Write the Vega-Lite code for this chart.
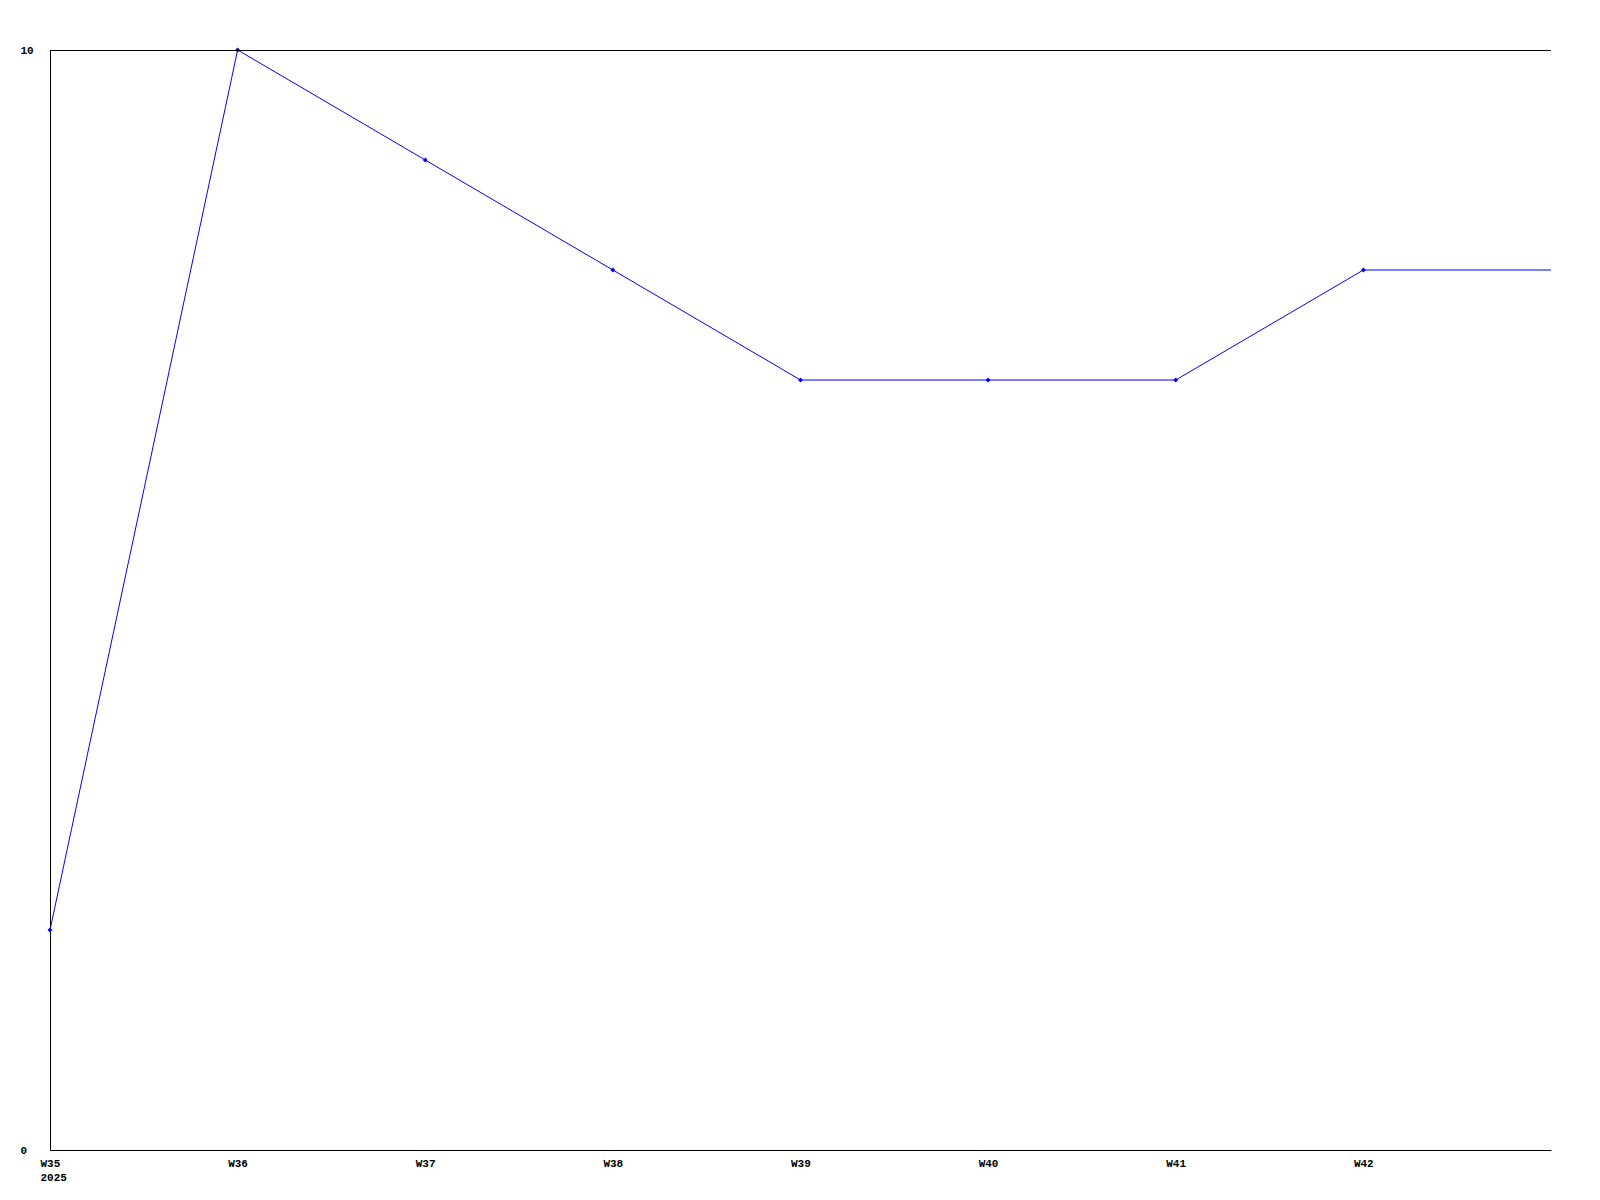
{
  "$schema": "https://vega.github.io/schema/vega-lite/v6.json",
  "autosize": {"type": "none"},
  "padding": {"left": 50, "top": 50, "right": 49, "bottom": 50},
  "width": 1501,
  "height": 1100,
  "background": "white",
  "config": {
    "view": {"stroke": null},
    "axis": {"labelFont": "Liberation Mono", "labelFontWeight": "bold", "labelFontSize": 11, "labelColor": "black", "grid": false, "ticks": false, "domainColor": "black", "domainWidth": 1, "title": null},
    "axisX": {"labelAlign": "left", "labelOffset": -10, "labelBaseline": "top", "labelPadding": 7, "labelLineHeight": 14, "labelFlush": false, "labelOverlap": false},
    "axisY": {"labelAlign": "left", "labelPadding": 30, "labelBaseline": "middle", "labelFlush": false}
  },
  "data": {"values": [
    {"week": 35, "value": 2},
    {"week": 36, "value": 10},
    {"week": 37, "value": 9},
    {"week": 38, "value": 8},
    {"week": 39, "value": 7},
    {"week": 40, "value": 7},
    {"week": 41, "value": 7},
    {"week": 42, "value": 8},
    {"week": 43, "value": 8}
  ]},
  "layer": [
    {
      "mark": {"type": "line", "color": "#0000ff", "strokeWidth": 1},
      "encoding": {
        "x": {"field": "week", "type": "quantitative", "scale": {"domain": [35, 43], "nice": false, "zero": false},
          "axis": {"values": [35, 36, 37, 38, 39, 40, 41, 42], "labelExpr": "datum.value == 35 ? ['W35', '2025'] : 'W' + datum.value"}},
        "y": {"field": "value", "type": "quantitative", "scale": {"domain": [0, 10], "nice": false},
          "axis": {"values": [0, 10], "format": "d"}}
      }
    },
    {
      "transform": [{"filter": "datum.week <= 42"}],
      "mark": {"type": "point", "shape": "diamond", "filled": true, "color": "#0000ff", "size": 24, "opacity": 1},
      "encoding": {
        "x": {"field": "week", "type": "quantitative"},
        "y": {"field": "value", "type": "quantitative"}
      }
    },
    {
      "mark": {"type": "rule", "color": "black", "strokeWidth": 1, "yOffset": 0.5},
      "encoding": {"y": {"datum": 10, "type": "quantitative"}}
    }
  ]
}
